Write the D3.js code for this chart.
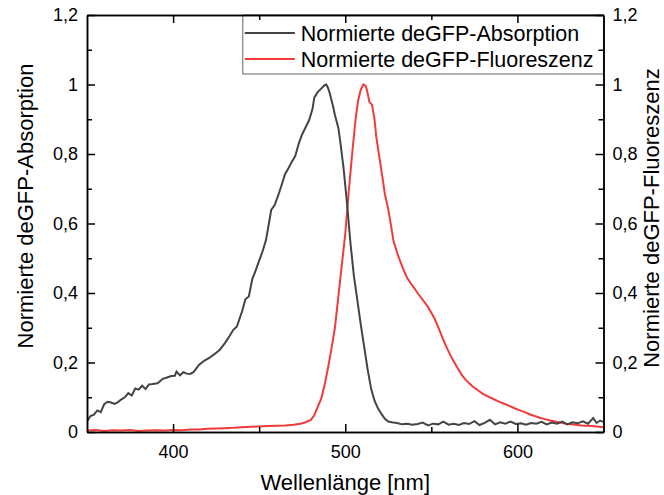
<!DOCTYPE html>
<html>
<head>
<meta charset="utf-8">
<script src="https://cdn.jsdelivr.net/npm/d3@7"></script>
<style>
  body { margin: 0; background: #fff; }
  svg text { font-family: "Liberation Sans", Arial, sans-serif; fill: #000; }
</style>
</head>
<body>
<div id="myDataVis"></div>
<script>
// data
const absWl = [350, 352, 354, 356, 358, 360, 362, 364, 366, 368, 370, 372, 374, 376, 378, 380, 382, 384, 386, 388,
    391, 394, 396, 399, 401, 402, 404, 406, 408, 410, 412, 415, 418, 421, 424, 427, 430, 432, 435, 437,
    440, 442, 444, 446, 448, 450, 452, 454, 456, 457, 459, 461, 463, 465, 467, 469, 471, 473, 475, 477,
    479, 481, 482, 484, 486, 488, 489, 490, 491, 493, 494, 496, 497, 499, 501, 503, 505, 507, 509, 511,
    513, 515, 517, 519, 521, 523, 525, 527, 530, 533, 536, 539, 542, 545, 548, 551, 554, 557, 560, 563,
    566, 569, 572, 575, 578, 581, 584, 587, 590, 593, 596, 599, 602, 605, 608, 611, 614, 617, 620, 623,
    626, 629, 632, 635, 638, 641, 644, 646, 648, 650];
const absVal = [0.030, 0.046, 0.050, 0.062, 0.057, 0.080, 0.087, 0.085, 0.081, 0.086, 0.094, 0.100, 0.112, 0.105, 0.125, 0.122, 0.133, 0.124, 0.137, 0.138,
    0.140, 0.153, 0.156, 0.161, 0.162, 0.174, 0.163, 0.172, 0.168, 0.167, 0.173, 0.193, 0.205, 0.213, 0.224, 0.236, 0.255, 0.270, 0.294, 0.303,
    0.346, 0.382, 0.390, 0.440, 0.465, 0.493, 0.520, 0.553, 0.610, 0.639, 0.653, 0.680, 0.710, 0.742, 0.759, 0.778, 0.795, 0.830, 0.857, 0.877,
    0.897, 0.930, 0.962, 0.978, 0.988, 0.998, 1.000, 0.990, 0.975, 0.935, 0.912, 0.875, 0.840, 0.760, 0.660, 0.545, 0.450, 0.380, 0.310, 0.245,
    0.180, 0.125, 0.090, 0.068, 0.052, 0.038, 0.030, 0.028, 0.026, 0.022, 0.024, 0.021, 0.023, 0.027, 0.019, 0.024, 0.022, 0.030, 0.021, 0.024,
    0.020, 0.026, 0.023, 0.031, 0.020, 0.026, 0.035, 0.022, 0.028, 0.024, 0.030, 0.023, 0.025, 0.021, 0.026, 0.024, 0.029, 0.022, 0.027, 0.024,
    0.030, 0.022, 0.028, 0.025, 0.031, 0.024, 0.040, 0.026, 0.033, 0.029];

const fluWl = [350, 355, 360, 365, 370, 375, 380, 385, 390, 395, 400, 405, 410, 415, 420, 425, 430, 435, 440, 445,
    450, 455, 460, 465, 470, 474, 477, 480, 482, 484, 486, 488, 490, 492, 494, 496, 498, 500, 502, 504,
    506, 507.5, 509, 510.5, 512, 513, 514, 515.5, 517, 518, 520, 522, 523, 525, 526, 528, 530, 532, 534, 536,
    538, 540, 542, 544, 546, 548, 550, 552, 554, 556, 558, 560, 562, 564, 566, 568, 570, 572, 574, 577,
    580, 583, 586, 589, 592, 595, 598, 601, 604, 607, 610, 613, 616, 619, 622, 625, 628, 631, 634, 637,
    640, 643, 646, 650];
const fluVal = [0.004, 0.006, 0.003, 0.005, 0.004, 0.006, 0.003, 0.004, 0.005, 0.004, 0.006, 0.005, 0.007, 0.007, 0.009, 0.010, 0.011, 0.012, 0.014, 0.015,
    0.016, 0.017, 0.018, 0.019, 0.021, 0.024, 0.028, 0.035, 0.048, 0.072, 0.095, 0.135, 0.185, 0.240, 0.300, 0.390, 0.480, 0.570, 0.690, 0.800,
    0.900, 0.955, 0.985, 1.000, 0.995, 0.975, 0.950, 0.942, 0.900, 0.850, 0.785, 0.720, 0.685, 0.640, 0.612, 0.550, 0.518, 0.490, 0.465, 0.443,
    0.428, 0.415, 0.400, 0.387, 0.374, 0.360, 0.343, 0.325, 0.302, 0.277, 0.253, 0.232, 0.212, 0.195, 0.178, 0.162, 0.150, 0.140, 0.131, 0.120,
    0.110, 0.102, 0.095, 0.088, 0.082, 0.076, 0.069, 0.063, 0.058, 0.051, 0.046, 0.041, 0.037, 0.033, 0.030, 0.027, 0.024, 0.022, 0.021, 0.019,
    0.018, 0.017, 0.016, 0.014];

const xTicks = [400, 500, 600];
const xMinor = [450, 550];
const yTicks = [0, 0.2, 0.4, 0.6, 0.8, 1, 1.2];
const yTickLabels = ["0", "0,2", "0,4", "0,6", "0,8", "1", "1,2"];
const yMinor = [0.1, 0.3, 0.5, 0.7, 0.9, 1.1];
const seriesNames = ["Normierte deGFP-Absorption", "Normierte deGFP-Fluoreszenz"];
const seriesColors = ["#444444", "#f33a3a"];

let margin = { top: 15, right: 60.5, bottom: 63, left: 87 },
    width = 664 - margin.left - margin.right,
    height = 495 - margin.top - margin.bottom;

const svg = d3.select("#myDataVis")
    .append("svg")
    .attr("width", 664)
    .attr("height", 495)
    .append("g")
    .attr("transform", `translate(${margin.left},${margin.top})`);

const x = d3.scaleLinear().domain([350, 650]).range([0, width]);
const y = d3.scaleLinear().domain([0, 1.2]).range([height, 0]);

svg.append("clipPath").attr("id", "clip")
    .append("rect").attr("width", width).attr("height", height);

// legend box sits under the frame
const legend = svg.append("g").attr("transform", `translate(${x(440.5)},0)`);
legend.append("rect")
    .attr("width", width - x(440.5))
    .attr("height", 59)
    .attr("fill", "#fff")
    .attr("stroke", "#666")
    .attr("stroke-width", 1);

seriesNames.forEach((name, i) => {
    legend.append("line")
        .attr("x1", 2).attr("x2", 52)
        .attr("y1", 18 + i * 26).attr("y2", 18 + i * 26)
        .attr("stroke", seriesColors[i])
        .attr("stroke-width", 2);
    legend.append("text")
        .attr("x", 58)
        .attr("y", 18 + i * 26)
        .attr("dy", "0.35em")
        .style("font-size", "21.5px")
        .text(name);
});

// curves
const line = d3.line().x(d => x(d[0])).y(d => y(d[1]));
const absData = absWl.map((w, i) => [w, absVal[i]]);
const fluData = fluWl.map((w, i) => [w, fluVal[i]]);

svg.append("path")
    .datum(fluData)
    .attr("clip-path", "url(#clip)")
    .attr("fill", "none")
    .attr("stroke", seriesColors[1])
    .attr("stroke-width", 2)
    .attr("d", line);

svg.append("path")
    .datum(absData)
    .attr("clip-path", "url(#clip)")
    .attr("fill", "none")
    .attr("stroke", seriesColors[0])
    .attr("stroke-width", 2)
    .attr("d", line);

// axes, ticks point inward
function styleAxis(g) {
    g.select(".domain").attr("stroke", "#000").attr("stroke-width", 1.5);
    g.selectAll(".tick line").attr("stroke", "#000").attr("stroke-width", 1.5);
    g.selectAll(".tick text").style("font-size", "18px").attr("font-family", null);
}

svg.append("g")
    .attr("transform", `translate(0,${height})`)
    .call(d3.axisBottom(x).tickValues(xTicks).tickSize(-8).tickSizeOuter(0).tickPadding(13))
    .call(styleAxis);
svg.append("g")
    .attr("transform", `translate(0,${height})`)
    .call(d3.axisBottom(x).tickValues(xMinor).tickSize(-5).tickSizeOuter(0).tickFormat(""))
    .call(styleAxis);

svg.append("g")
    .call(d3.axisTop(x).tickValues(xTicks).tickSize(-8).tickSizeOuter(0).tickFormat(""))
    .call(styleAxis);
svg.append("g")
    .call(d3.axisTop(x).tickValues(xMinor).tickSize(-5).tickSizeOuter(0).tickFormat(""))
    .call(styleAxis);

svg.append("g")
    .call(d3.axisLeft(y).tickValues(yTicks).tickSize(-8).tickSizeOuter(0).tickPadding(9)
        .tickFormat((d, i) => yTickLabels[i]))
    .call(styleAxis);
svg.append("g")
    .call(d3.axisLeft(y).tickValues(yMinor).tickSize(-5).tickSizeOuter(0).tickFormat(""))
    .call(styleAxis);

svg.append("g")
    .attr("transform", `translate(${width},0)`)
    .call(d3.axisRight(y).tickValues(yTicks).tickSize(-8).tickSizeOuter(0).tickPadding(9)
        .tickFormat((d, i) => yTickLabels[i]))
    .call(styleAxis);
svg.append("g")
    .attr("transform", `translate(${width},0)`)
    .call(d3.axisRight(y).tickValues(yMinor).tickSize(-5).tickSizeOuter(0).tickFormat(""))
    .call(styleAxis);

// axis labels
svg.append("text")
    .attr("transform", `translate(${width / 2},${height + 58})`)
    .style("text-anchor", "middle")
    .style("font-size", "22px")
    .text("Wellenlänge [nm]");

svg.append("text")
    .attr("transform", `translate(${33 - margin.left},${206 - margin.top}) rotate(-90)`)
    .style("text-anchor", "middle")
    .style("font-size", "22px")
    .text("Normierte deGFP-Absorption");

svg.append("text")
    .attr("transform", `translate(${659 - margin.left},${218 - margin.top}) rotate(-90)`)
    .style("text-anchor", "middle")
    .style("font-size", "22px")
    .text("Normierte deGFP-Fluoreszenz");
</script>
</body>
</html>
